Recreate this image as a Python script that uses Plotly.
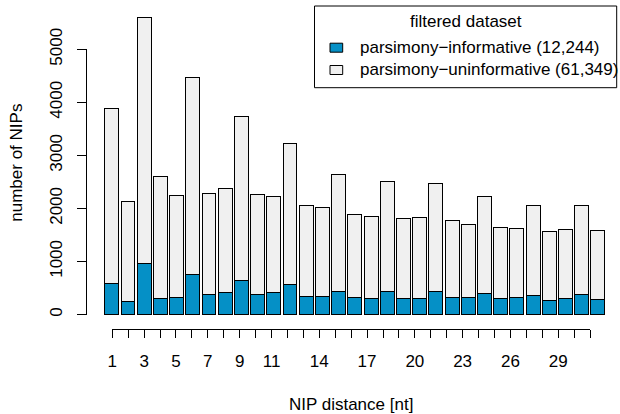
import plotly.graph_objects as go

# ---- data ----
nip_distance = list(range(1, 32))
informative = [569, 236, 952, 292, 317, 739, 368, 400, 626, 368, 405,
               556, 330, 330, 430, 317, 292, 418, 298, 298, 418, 305,
               317, 392, 298, 305, 343, 255, 292, 362, 279]
uninformative = [3300, 1885, 4638, 2306, 1923, 3726, 1910, 1960, 3098, 1879, 1810,
                 2659, 1710, 1672, 2194, 1559, 1541, 2074, 1497, 1516, 2037, 1464,
                 1370, 1823, 1333, 1307, 1708, 1306, 1301, 1678, 1290]
series_names = ["parsimony\u2212informative (12,244)",
                "parsimony\u2212uninformative (61,349)"]
legend_title = "filtered dataset"
x_label_shown = [1, 3, 5, 7, 9, 11, 14, 17, 20, 23, 26, 29]
x_tick_text = [str(v) if v in x_label_shown else "" for v in nip_distance]
y_tick_vals = [0, 1000, 2000, 3000, 4000, 5000]

FONT = "Liberation Sans, Arial, Helvetica, sans-serif"
FS = 17
BLUE = "#0590c6"
GREY = "#f0f0f0"
COLORS = [BLUE, GREY]

# plot-area geometry (pixels)
L, R, T, B = 86, 3, 6, 85
W, H = 620, 414
PW, PH = W - L - R, H - T - B


def px(x):
    return (x - L) / PW


def py(y):
    return (H - B - y) / PH


fig = go.Figure()
for vals, name, col in zip([informative, uninformative], series_names, COLORS):
    fig.add_trace(go.Bar(x=nip_distance, y=vals, name=name, width=0.86, showlegend=False,
                         marker=dict(color=col, line=dict(color="black", width=1))))
# dummy trace to attach the R-style axes
fig.add_trace(go.Scatter(x=[None], y=[None], xaxis="x2", yaxis="y2",
                         showlegend=False, hoverinfo="skip"))

# manual R-style legend
shapes = [dict(type="rect", xref="paper", yref="paper",
               x0=px(314.5), x1=px(616.7), y0=py(87.7), y1=py(6),
               line=dict(color="black", width=1), fillcolor="white", layer="above")]
annotations = [dict(text=legend_title, xref="paper", yref="paper", x=px(465.5), y=py(21.7),
                    xanchor="center", yanchor="middle", showarrow=False, font=dict(size=FS))]
for i, (name, col) in enumerate(zip(series_names, COLORS)):
    cy = 47.7 + i * 22.3
    shapes.append(dict(type="rect", xref="paper", yref="paper",
                       x0=px(330), x1=px(342.7), y0=py(cy + 4.5), y1=py(cy - 4.5),
                       line=dict(color="black", width=1), fillcolor=col, layer="above"))
    annotations.append(dict(text=name, xref="paper", yref="paper", x=px(357.5), y=py(cy),
                            xanchor="left", yanchor="middle", showarrow=False,
                            font=dict(size=FS)))
annotations.append(dict(text="number of NIPs", textangle=-90, xref="paper", yref="paper",
                        x=px(16.7), y=py(163), xanchor="center", yanchor="middle",
                        showarrow=False, font=dict(size=FS)))

fig.update_layout(
    width=W, height=H, autosize=False,
    margin=dict(l=L, r=R, t=T, b=B, autoexpand=False),
    paper_bgcolor="white", plot_bgcolor="rgba(0,0,0,0)",
    barmode="stack", bargap=0, showlegend=False,
    font=dict(family=FONT, size=FS, color="black"),
    xaxis=dict(visible=False, range=[-0.623, 32.15], fixedrange=True),
    yaxis=dict(visible=False, range=[-273, 5816], fixedrange=True),
    xaxis2=dict(domain=[px(112.3), px(590)], range=[1, 31], anchor="free", position=0,
                showline=True, linecolor="black", linewidth=1,
                ticks="outside", ticklen=8, tickcolor="black", tickwidth=1,
                tickmode="array", tickvals=nip_distance, ticktext=x_tick_text,
                showgrid=False, zeroline=False, ticklabelstandoff=9, automargin=False,
                tickfont=dict(size=FS),
                title=dict(text="NIP distance [nt]", standoff=34, font=dict(size=FS))),
    yaxis2=dict(domain=[py(314.5), py(49.3)], range=[0, 5000], anchor="free", position=0,
                showline=True, linecolor="black", linewidth=1,
                ticks="outside", ticklen=9, tickcolor="black", tickwidth=1,
                tickmode="array", tickvals=y_tick_vals, tickangle=-90,
                showgrid=False, zeroline=False, ticklabelstandoff=8, automargin=False,
                tickfont=dict(size=FS)),
    shapes=shapes,
    annotations=annotations,
)

fig.write_html(
    "out.html",
    config={"responsive": False, "displayModeBar": False},
    post_script="document.body.style.margin='0';document.body.style.overflow='hidden';"
                "Plotly.relayout('{plot_id}', {width: 620, height: 414});",
)
